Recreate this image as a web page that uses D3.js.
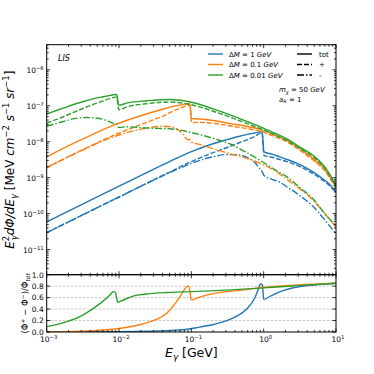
<!DOCTYPE html>
<html>
<head>
<meta charset="utf-8">
<script src="https://cdn.jsdelivr.net/npm/d3@7"></script>
<style>
body { margin: 0; background: #fff; }
text { font-family: "DejaVu Sans", sans-serif; fill: #000; }
</style>
</head>
<body>
<svg width="374" height="374"></svg>
<script>
// mass splittings, in drawing order
var dmLabels = ["1", "0.1", "0.01"];
var colors = ["#1f77b4", "#ff7f0e", "#2ca02c"];

// ΔM = 1 GeV
var E_1 = [0.001, 0.01, 0.05, 0.1, 0.2, 0.3, 0.45, 0.6, 0.75, 0.9, 0.95, 1.01, 1.3, 1.66, 2.2, 2.9, 3.8, 4.8, 6.5, 8, 10];
var tot_1 = [5.9e-11, 5.8e-10, 2.8e-9, 5.3e-9, 8.8e-9, 1.12e-8, 1.4e-8, 1.6e-8, 1.75e-8, 1.88e-8, 1.9e-8, 5.2e-9, 4.5e-9, 3.8e-9, 3.1e-9, 2.5e-9, 1.9e-9, 1.45e-9, 9.5e-10, 6.8e-10, 4.1e-10];
var plus_1 = [2.95e-11, 2.9e-10, 1.43e-9, 2.8e-9, 4.97e-9, 6.7e-9, 9.2e-9, 1.15e-8, 1.4e-8, 1.72e-8, 1.75e-8, 4.1e-9, 3.7e-9, 3.2e-9, 2.7e-9, 2.2e-9, 1.7e-9, 1.3e-9, 8.6e-10, 6.2e-10, 3.8e-10];
var minus_1 = [2.95e-11, 2.9e-10, 1.37e-9, 2.5e-9, 3.83e-9, 4.4e-9, 4.3e-9, 3.6e-9, 2.7e-9, 1.7e-9, 1.5e-9, 1.15e-9, 9e-10, 7.5e-10, 5.2e-10, 3.6e-10, 2.4e-10, 1.6e-10, 8e-11, 4.8e-11, 2.7e-11];

// ΔM = 0.1 GeV
var E_01 = [0.001, 0.0029, 0.0085, 0.0245, 0.04, 0.057, 0.075, 0.09, 0.095, 0.101, 0.13, 0.2, 0.35, 0.6, 0.9, 1.4, 2.1, 3.2, 4.8, 7, 10];
var tot_01 = [3.8e-9, 1.1e-8, 2.9e-8, 6.0e-8, 8.0e-8, 9.7e-8, 1.08e-7, 1.14e-7, 1.15e-7, 4.4e-8, 4.3e-8, 3.9e-8, 3.2e-8, 2.65e-8, 2.2e-8, 1.55e-8, 1.1e-8, 6.3e-9, 3.4e-9, 1.7e-9, 5.3e-10];
var plus_01 = [1.9e-9, 5.55e-9, 1.52e-8, 3.5e-8, 5.1e-8, 7.2e-8, 9.1e-8, 1.03e-7, 1.035e-7, 3.43e-8, 3.46e-8, 3.26e-8, 2.74e-8, 2.3e-8, 1.95e-8, 1.39e-8, 9.9e-9, 5.7e-9, 3.1e-9, 1.56e-9, 4.9e-10];
var minus_01 = [1.9e-9, 5.45e-9, 1.38e-8, 2.4e-8, 2.7e-8, 2.5e-8, 1.7e-8, 1.14e-8, 1.15e-8, 9.7e-9, 8.4e-9, 6.4e-9, 4.6e-9, 3.4e-9, 2.5e-9, 1.6e-9, 9e-10, 4.8e-10, 2.4e-10, 1.0e-10, 4.2e-11];

// ΔM = 0.01 GeV
var E_001 = [0.001, 0.0017, 0.0024, 0.0035, 0.0045, 0.006, 0.0076, 0.0089, 0.0093, 0.0099, 0.013, 0.0245, 0.05, 0.07, 0.1, 0.2, 0.35, 0.6, 0.9, 1.4, 2.1, 3.2, 4.8, 7, 10];
var tot_001 = [6.0e-8, 8.6e-8, 1.1e-7, 1.38e-7, 1.58e-7, 1.78e-7, 1.95e-7, 2.05e-7, 2.03e-7, 1.03e-7, 1.2e-7, 1.38e-7, 1.5e-7, 1.42e-7, 1.25e-7, 8.2e-8, 5.5e-8, 3.6e-8, 2.6e-8, 1.75e-8, 1.2e-8, 7.0e-9, 4.2e-9, 2.0e-9, 6.2e-10];
var plus_001 = [3.3e-8, 4.95e-8, 6.7e-8, 9.1e-8, 1.11e-7, 1.36e-7, 1.61e-7, 1.74e-7, 1.72e-7, 7.8e-8, 9.4e-8, 1.15e-7, 1.27e-7, 1.21e-7, 1.07e-7, 7.05e-8, 4.76e-8, 3.15e-8, 2.3e-8, 1.56e-8, 1.08e-8, 6.4e-9, 3.85e-9, 1.84e-9, 5.7e-10];
var minus_001 = [2.7e-8, 3.66e-8, 4.4e-8, 4.7e-8, 4.6e-8, 4.2e-8, 3.5e-8, 3.1e-8, 3.1e-8, 2.5e-8, 2.6e-8, 2.4e-8, 2.3e-8, 2.1e-8, 1.8e-8, 1.25e-8, 8.5e-9, 4.8e-9, 3.0e-9, 1.7e-9, 1.05e-9, 5.2e-10, 2.6e-10, 1.0e-10, 4.6e-11];

// asymmetry (Φ+ − Φ−)/Φtot, lower panel
var rE_1 = [0.001, 0.01, 0.069, 0.117, 0.2, 0.34, 0.58, 0.75, 0.85, 0.9, 0.96, 1.0, 1.3, 1.66, 2.8, 4.9, 10];
var ratio_1 = [0.0, 0.005, 0.035, 0.075, 0.13, 0.22, 0.40, 0.59, 0.76, 0.84, 0.82, 0.57, 0.64, 0.70, 0.78, 0.82, 0.85];
var rE_01 = [0.001, 0.003, 0.01, 0.02, 0.027, 0.046, 0.06, 0.07, 0.08, 0.088, 0.093, 0.1, 0.13, 0.2, 0.58, 1, 3, 10];
var ratio_01 = [0.002, 0.015, 0.06, 0.13, 0.18, 0.33, 0.50, 0.62, 0.74, 0.80, 0.79, 0.56, 0.61, 0.67, 0.74, 0.78, 0.82, 0.85];
var rE_001 = [0.001, 0.0019, 0.0032, 0.0055, 0.0075, 0.0083, 0.0089, 0.0096, 0.011, 0.016, 0.027, 0.046, 0.1, 0.3, 1, 3, 10];
var ratio_001 = [0.093, 0.18, 0.30, 0.50, 0.645, 0.705, 0.69, 0.52, 0.55, 0.63, 0.67, 0.69, 0.705, 0.73, 0.77, 0.81, 0.85];

var xTicks = [-3, -2, -1, 0, 1];
var yTicks = [-11, -10, -9, -8, -7, -6];
var rTicks = [0, 0.2, 0.4, 0.6, 0.8, 1.0];
var styleNames = ["tot", "+", "-"];

var spectra = [
  {E: E_1, s: [tot_1, plus_1, minus_1]},
  {E: E_01, s: [tot_01, plus_01, minus_01]},
  {E: E_001, s: [tot_001, plus_001, minus_001]}
];
var ratios = [[rE_1, ratio_1], [rE_01, ratio_01], [rE_001, ratio_001]];
var dashes = [null, "5,2", "7,2,1.5,2"];

var svg = d3.select("svg");
var L = 46.7, R = 336, T = 44.7, M = 274.7, B = 332;

var x = d3.scaleLog().domain([1e-3, 10]).range([L, R]);
var y = d3.scaleLog().domain([2e-12, 5e-6]).range([M, T]);
var yr = d3.scaleLinear().domain([0, 1]).range([B, M]);

var defs = svg.append("defs");
defs.append("clipPath").attr("id", "cTop").append("rect")
  .attr("x", L).attr("y", T).attr("width", R - L).attr("height", M - T);
defs.append("clipPath").attr("id", "cBot").append("rect")
  .attr("x", L).attr("y", M).attr("width", R - L).attr("height", B - M);

// gridlines lower panel
svg.append("g").selectAll("line").data([0.2, 0.4, 0.6, 0.8]).enter().append("line")
  .attr("x1", L).attr("x2", R)
  .attr("y1", function(d) { return yr(d); }).attr("y2", function(d) { return yr(d); })
  .attr("stroke", "#b0b0b0").attr("stroke-width", 0.7).attr("stroke-dasharray", "2.5,1.5");

// spectra
var line = d3.line()
  .x(function(d) { return x(d[0]); })
  .y(function(d) { return y(d[1]); })
  .curve(d3.curveMonotoneX);
var gTop = svg.append("g").attr("clip-path", "url(#cTop)");
spectra.forEach(function(sp, i) {
  sp.s.forEach(function(vals, k) {
    gTop.append("path")
      .datum(d3.zip(sp.E, vals))
      .attr("d", line)
      .attr("fill", "none")
      .attr("stroke", colors[i])
      .attr("stroke-width", 1.4)
      .attr("stroke-dasharray", dashes[k]);
  });
});

// asymmetry
var rline = d3.line()
  .x(function(d) { return x(d[0]); })
  .y(function(d) { return yr(d[1]); })
  .curve(d3.curveMonotoneX);
var gBot = svg.append("g").attr("clip-path", "url(#cBot)");
ratios.forEach(function(r, i) {
  gBot.append("path")
    .datum(d3.zip(r[0], r[1]))
    .attr("d", rline)
    .attr("fill", "none")
    .attr("stroke", colors[i])
    .attr("stroke-width", 1.4);
});

// frames
[[T, M], [M, B]].forEach(function(p) {
  svg.append("rect").attr("x", L).attr("y", p[0]).attr("width", R - L).attr("height", p[1] - p[0])
    .attr("fill", "none").attr("stroke", "#000").attr("stroke-width", 1);
});

// ticks
function logMinor(lo, hi) {
  var out = [];
  for (var e = Math.floor(Math.log10(lo)); e <= Math.ceil(Math.log10(hi)); e++)
    for (var k = 2; k <= 9; k++) {
      var v = k * Math.pow(10, e);
      if (v > lo && v < hi) out.push(v);
    }
  return out;
}
var ticks = svg.append("g").attr("stroke", "#000").attr("stroke-width", 0.8);
function tickSet(vals, fn) {
  vals.forEach(function(v) { var c = fn(v); ticks.append("line").attr("x1", c[0]).attr("y1", c[1]).attr("x2", c[2]).attr("y2", c[3]); });
}
var xMaj = xTicks.map(function(e) { return Math.pow(10, e); });
var xMin = logMinor(1e-3, 10);
var yMaj = yTicks.map(function(e) { return Math.pow(10, e); });
var yMin = logMinor(2e-12, 5e-6);
[[xMaj, 3.5], [xMin, 2]].forEach(function(s) {
  var len = s[1];
  tickSet(s[0], function(v) { return [x(v), T, x(v), T + len]; });
  tickSet(s[0], function(v) { return [x(v), M, x(v), M - len]; });
  tickSet(s[0], function(v) { return [x(v), M, x(v), M + len]; });
  tickSet(s[0], function(v) { return [x(v), B, x(v), B - len]; });
});
[[yMaj, 3.5], [yMin, 2]].forEach(function(s) {
  var len = s[1];
  tickSet(s[0], function(v) { return [L, y(v), L + len, y(v)]; });
  tickSet(s[0], function(v) { return [R, y(v), R - len, y(v)]; });
});
tickSet(rTicks, function(v) { return [L, yr(v), L + 3.5, yr(v)]; });
tickSet(rTicks, function(v) { return [R, yr(v), R - 3.5, yr(v)]; });

// rich text helper
function rich(t, parts, fs) {
  var shift = 0;
  parts.forEach(function(p) {
    var target = p.sup ? -0.4 * fs : p.sub ? 0.25 * fs : 0;
    var ts = t.append("tspan").attr("dy", target - shift).text(p.t);
    shift = target;
    if (p.sup || p.sub) ts.attr("font-size", fs * 0.7);
    if (p.it) ts.attr("font-style", "italic");
    if (p.dx) ts.attr("dx", p.dx);
  });
}
function pow10Label(sel, e, fs) {
  rich(sel, [{t: "10"}, {t: (e < 0 ? "\u2212" : "") + Math.abs(e), sup: true}], fs);
}

var fsTick = 7.5;
yTicks.forEach(function(e) {
  var t = svg.append("text").attr("x", L - 3).attr("y", y(Math.pow(10, e)) + 3.5)
    .attr("text-anchor", "end").attr("font-size", fsTick);
  pow10Label(t, e, fsTick);
});
xTicks.forEach(function(e) {
  var t = svg.append("text").attr("x", x(Math.pow(10, e)) + 2).attr("y", B + 10)
    .attr("text-anchor", "middle").attr("font-size", fsTick);
  pow10Label(t, e, fsTick);
});
rTicks.forEach(function(v) {
  svg.append("text").attr("x", L - 3).attr("y", yr(v) + 2.8)
    .attr("text-anchor", "end").attr("font-size", fsTick).text(v.toFixed(1));
});

// axis labels
var xl = svg.append("text").attr("x", (L + R) / 2).attr("y", 357)
  .attr("text-anchor", "middle").attr("font-size", 12.5);
rich(xl, [{t: "E", it: true}, {t: "\u03b3", it: true, sub: true}, {t: " [GeV]"}], 12.5);

var yl = svg.append("text").attr("transform", "translate(14," + ((T + M) / 2) + ") rotate(-90)")
  .attr("text-anchor", "middle").attr("font-size", 12);
rich(yl, [
  {t: "E", it: true}, {t: "2", sup: true}, {t: "\u03b3", it: true, sub: true, dx: -4.5},
  {t: "d\u03a6/dE", it: true}, {t: "\u03b3", it: true, sub: true},
  {t: " [MeV "}, {t: "cm", it: true}, {t: "\u22122", sup: true},
  {t: " s", it: true}, {t: "\u22121", sup: true},
  {t: " sr", it: true}, {t: "\u22121", sup: true}, {t: "]"}
], 12);

var rl = svg.append("text").attr("transform", "translate(28," + ((M + B) / 2) + ") rotate(-90)")
  .attr("text-anchor", "middle").attr("font-size", 8.5);
rich(rl, [
  {t: "(\u03a6"}, {t: "+", sup: true}, {t: " \u2212 \u03a6"}, {t: "\u2212", sup: true},
  {t: ")/\u03a6"}, {t: "tot", it: true, sub: true}
], 8.5);

// annotations
svg.append("text").attr("x", 58).attr("y", 61).attr("font-size", 8).attr("font-style", "italic").text("LIS");
var m1 = svg.append("text").attr("x", 279).attr("y", 92).attr("font-size", 7);
rich(m1, [{t: "m", it: true}, {t: "\u03c7", it: true, sub: true}, {t: " = 50 "}, {t: "GeV", it: true}], 7);
var m2 = svg.append("text").attr("x", 279).attr("y", 101.5).attr("font-size", 7);
rich(m2, [{t: "a", it: true}, {t: "R", it: true, sub: true}, {t: " = 1"}], 7);

// legend
var legY = [54, 64.5, 75];
dmLabels.forEach(function(lab, i) {
  svg.append("line").attr("x1", 208).attr("x2", 223).attr("y1", legY[i]).attr("y2", legY[i])
    .attr("stroke", colors[i]).attr("stroke-width", 1.4);
  var t = svg.append("text").attr("x", 229).attr("y", legY[i] + 2.5).attr("font-size", 7);
  rich(t, [{t: "\u0394"}, {t: "M", it: true}, {t: " = " + lab + " "}, {t: "GeV", it: true}], 7);
});
styleNames.forEach(function(lab, k) {
  svg.append("line").attr("x1", 297).attr("x2", 312).attr("y1", legY[k]).attr("y2", legY[k])
    .attr("stroke", "#000").attr("stroke-width", 1.4).attr("stroke-dasharray", dashes[k]);
  svg.append("text").attr("x", 319).attr("y", legY[k] + 2.5).attr("font-size", 7).text(lab);
});
</script>
</body>
</html>
